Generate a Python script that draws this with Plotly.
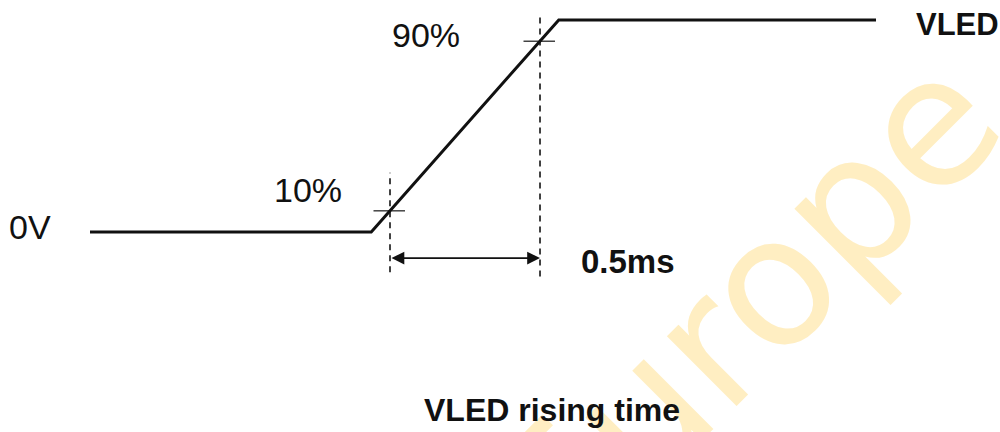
import plotly.graph_objects as go

# ---- data (time in ms, level in % of VLED) ----
wave_t = [-1.0, -0.0625, 0.5625, 1.62]
wave_v = [0, 0, 100, 100]
marker_t = [0.0, 0.5]          # 10% and 90% crossing times
marker_v = [10, 90]            # levels
marker_labels = ["10%", "90%"]
level_labels = ["0V", "VLED"]
rise_label = "0.5ms"
title_text = "VLED rising time"
watermark = "Europe"

X_RANGE = [-1.3, 2.0333]
Y_RANGE = [-94.3, 109.4]

fig = go.Figure()

# dashed verticals at 10% / 90% crossings
dash_spans = [(-19.0, 28.0), (-21.0, 103.0)]
for t, (y0, y1) in zip(marker_t, dash_spans):
    fig.add_trace(go.Scatter(x=[t, t], y=[y0, y1], mode="lines",
                             line=dict(color="#222222", width=1.7, dash="6px,5px"),
                             hoverinfo="skip", showlegend=False))

# small horizontal tick marks at crossing levels
for t, v in zip(marker_t, marker_v):
    fig.add_trace(go.Scatter(x=[t - 0.055, t + 0.05], y=[v, v], mode="lines",
                             line=dict(color="#444444", width=1.5),
                             hoverinfo="skip", showlegend=False))

# waveform
fig.add_trace(go.Scatter(x=wave_t, y=wave_v, mode="lines",
                         line=dict(color="#111111", width=3),
                         hoverinfo="skip", showlegend=False))

annotations = []
# watermark first (underneath other texts)
annotations.append(dict(xref="paper", yref="paper", x=743.5 / 1000, y=1 - 310.5 / 432,
                        text=watermark, showarrow=False, textangle=-45,
                        font=dict(family="DejaVu Sans", size=180, color="#FFEEC2"),
                        xanchor="center", yanchor="middle"))

# double-headed arrow for rise time
arrow_v = -12.3
annotations.append(dict(x=marker_t[1], y=arrow_v, ax=marker_t[0], ay=arrow_v,
                        xref="x", yref="y", axref="x", ayref="y",
                        text="", showarrow=True, arrowhead=2, arrowside="end+start",
                        arrowsize=1.6, arrowwidth=1.6, arrowcolor="#111111",
                        startarrowhead=2, startarrowsize=1.6))

lab_font = dict(family="Liberation Sans, Arial, sans-serif", size=34, color="#111111")
bold_font = dict(family="Liberation Sans, Arial, sans-serif", size=33, color="#111111")

def px(xp, yp):
    return dict(xref="paper", yref="paper", x=xp / 1000, y=1 - yp / 432,
                showarrow=False, xanchor="center", yanchor="middle")

annotations.append({**px(308, 190), "text": marker_labels[0], "font": lab_font})
annotations.append({**px(426, 35), "text": marker_labels[1], "font": lab_font})
annotations.append({**px(30, 227), "text": level_labels[0], "font": lab_font})
annotations.append({**px(957, 24), "text": "<b>" + level_labels[1] + "</b>",
                    "font": dict(bold_font, size=31)})
annotations.append({**px(628, 261), "text": "<b>" + rise_label + "</b>", "font": bold_font})
annotations.append({**px(552, 410), "text": "<b>" + title_text + "</b>", "font": dict(bold_font, size=32)})

fig.update_layout(
    width=1000, height=432,
    margin=dict(l=0, r=0, t=0, b=0),
    paper_bgcolor="white", plot_bgcolor="white",
    xaxis=dict(range=X_RANGE, visible=False, fixedrange=True),
    yaxis=dict(range=Y_RANGE, visible=False, fixedrange=True),
    annotations=annotations,
    showlegend=False,
)

fig.write_html("out.html", config={"displayModeBar": False},
               post_script="document.body.style.margin='0';document.body.style.overflow='hidden';")
